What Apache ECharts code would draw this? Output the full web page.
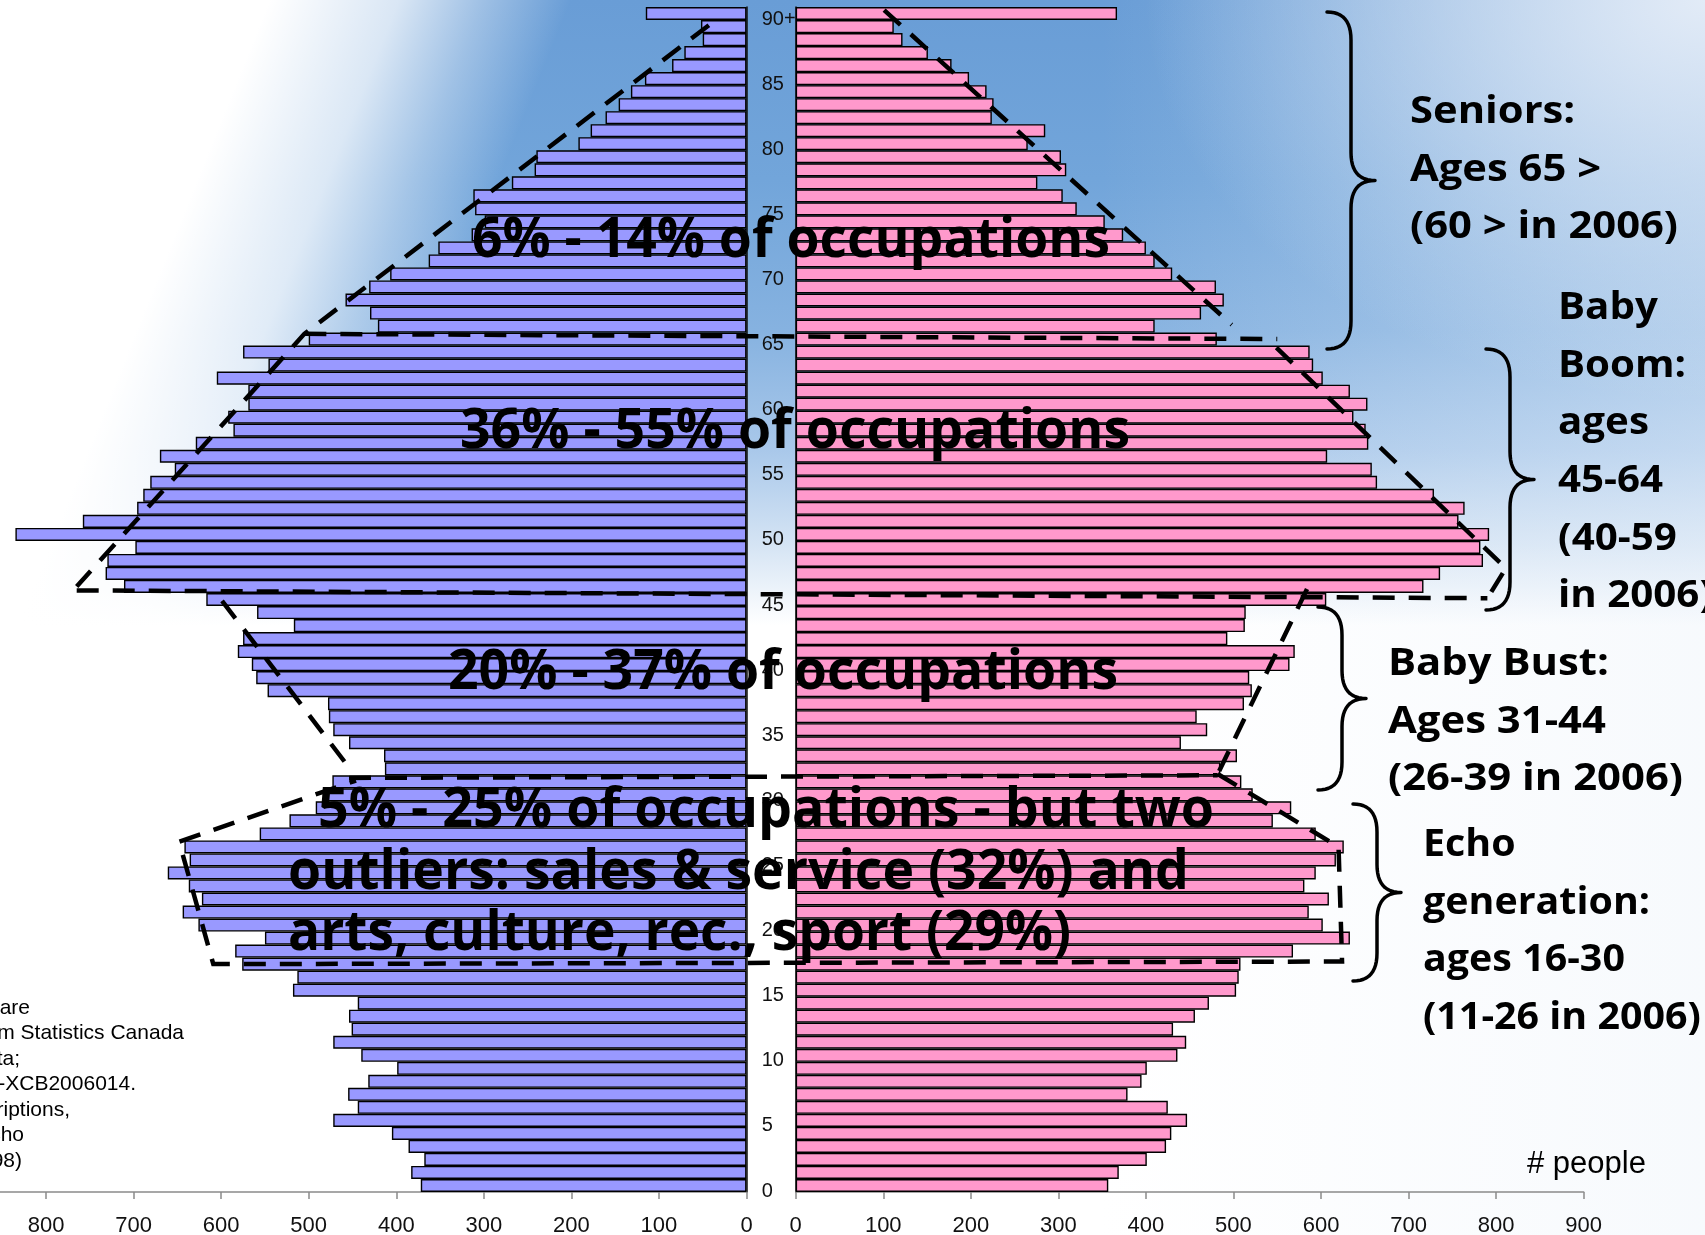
<!DOCTYPE html>
<html>
<head>
<meta charset="utf-8">
<script src="https://cdn.jsdelivr.net/npm/echarts@6.0.0/dist/echarts.min.js"></script>
<style>
html, body { margin: 0; padding: 0; background: #fff; }
#main {
  width: 1705px;
  height: 1235px;
  background:
    linear-gradient(112deg, #ffffff 0px, #ffffff 250px, rgba(255,255,255,0.75) 370px, rgba(255,255,255,0.35) 450px, rgba(255,255,255,0) 530px),
    radial-gradient(ellipse 560px 400px at 1705px 0px, rgba(226,235,247,1) 0%, rgba(226,235,247,0) 100%),
    linear-gradient(90deg, rgba(235,242,250,0) 1100px, rgba(235,242,250,0.4) 1705px),
    linear-gradient(180deg, #699dd6 0px, #72a5da 180px, #86b2e0 330px, #a9c8ea 450px, #d5e4f4 545px, #ffffff 625px);
}
</style>
</head>
<body>
<div id="main"></div>
<script>
// ages 0 .. 90+, bottom to top
var ageLabels = ['0','1','2','3','4','5','6','7','8','9',
  '10','11','12','13','14','15','16','17','18','19',
  '20','21','22','23','24','25','26','27','28','29',
  '30','31','32','33','34','35','36','37','38','39',
  '40','41','42','43','44','45','46','47','48','49',
  '50','51','52','53','54','55','56','57','58','59',
  '60','61','62','63','64','65','66','67','68','69',
  '70','71','72','73','74','75','76','77','78','79',
  '80','81','82','83','84','85','86','87','88','89','90+'];

// # people, blue (left) side
var blueCounts = [372, 383, 368, 386, 405, 472, 444, 455, 432, 399,
  440, 472, 451, 454, 444, 518, 513, 576, 584, 550,
  626, 644, 622, 637, 661, 636, 642, 556, 522, 492,
  480, 473, 413, 414, 454, 472, 477, 478, 547, 560,
  565, 581, 575, 517, 559, 617, 711, 732, 730, 698,
  835, 758, 696, 689, 681, 653, 670, 629, 586, 592,
  569, 569, 605, 546, 575, 500, 421, 430, 458, 431,
  407, 363, 352, 314, 299, 310, 312, 268, 242, 240,
  192, 178, 161, 146, 132, 116, 85, 71, 50, 52, 115];

// # people, pink (right) side
var pinkCounts = [357, 369, 401, 423, 429, 447, 425, 379, 395, 401,
  436, 446, 431, 456, 472, 503, 506, 508, 568, 633,
  602, 586, 609, 581, 594, 617, 626, 594, 545, 566,
  522, 509, 485, 504, 440, 470, 458, 512, 521, 518,
  564, 570, 493, 513, 514, 606, 717, 736, 785, 782,
  792, 757, 764, 729, 664, 658, 607, 654, 651, 637,
  653, 633, 602, 591, 587, 481, 410, 463, 489, 480,
  430, 410, 400, 374, 353, 321, 305, 276, 309, 303,
  265, 285, 224, 226, 218, 198, 178, 151, 122, 112, 367];

var peopleMax = 900;
var peopleStep = 100;

// dashed group outlines: [people (negative = left side), age position]
var groupOutlines = [
  [[-43, 89.1], [-505, 65.4], [-765, 46.0]],
  [[101, 90.26], [498, 66.1]],
  [[-505, 65.4], [550, 65.0]],
  [[549, 64.35], [811, 47.4], [790, 45.1]],
  [[-765, 45.7], [790, 45.1]],
  [[-599, 44.9], [-454, 32.1]],
  [[584, 45.8], [482, 31.6]],
  [[-454, 31.3], [482, 31.5]],
  [[482, 31.6], [620, 26.0], [624, 17.2], [-609, 17.0], [-648, 26.4], [-446, 31.1]]
];

var occupationNotes = [
  { text: '6% - 14% of occupations', x: 472, y: 241, w: 638 },
  { text: '36% - 55% of occupations', x: 460, y: 432, w: 670 },
  { text: '20% - 37% of occupations', x: 448, y: 673, w: 670 },
  { text: '5% - 25% of occupations - but two', x: 318, y: 811, w: 896 },
  { text: 'outliers: sales & service (32%) and', x: 288, y: 873, w: 901 },
  { text: 'arts, culture, rec., sport (29%)', x: 288, y: 934, w: 783 }
];

var cohortNotes = [
  { lines: ['Seniors:', 'Ages 65 >', '(60 > in 2006)'], x: 1410, y: 112, ref: 2, w: 268 },
  { lines: ['Baby', 'Boom:', 'ages', '45-64', '(40-59', 'in 2006)'], x: 1558, y: 308, ref: 1, w: 128 },
  { lines: ['Baby Bust:', 'Ages 31-44', '(26-39 in 2006)'], x: 1388, y: 664, ref: 2, w: 295 },
  { lines: ['Echo', 'generation:', 'ages 16-30', '(11-26 in 2006)'], x: 1423, y: 845, ref: 1, w: 227 }
];

// braces: spine x, top, bottom
var braces = [
  [1351, 12, 349],
  [1510, 349, 610],
  [1342, 607, 790],
  [1377, 804, 981]
];

var sourceLines = ['Data are', 'from Statistics Canada', '2006 Census data;',
  'Catalogue 97-551-XCB2006014.', 'Group descriptions,', 'Boom, Bust & Echo', '(Foot, 1998)'];
var sourceEnds = [30, 184, 20, 136, 70, 24, 22];

var tickFont = 'Liberation Sans';

var option = {
  backgroundColor: 'transparent',
  animation: false,
  grid: [
    { left: -41.5, width: 788, top: 7, bottom: 43, outerBoundsMode: 'none', containLabel: false },
    { left: 795.7, width: 788, top: 7, bottom: 43, outerBoundsMode: 'none', containLabel: false }
  ],
  xAxis: [
    {
      gridIndex: 0, type: 'value', inverse: true, min: 0, max: peopleMax, interval: peopleStep,
      splitLine: { show: false },
      axisLine: { show: true, lineStyle: { color: '#8a8a8a', width: 1.5 } },
      axisTick: { show: true, length: 7, lineStyle: { color: '#8a8a8a', width: 1.5 } },
      axisLabel: { fontSize: 22, margin: 23, color: '#111', fontFamily: tickFont }
    },
    {
      gridIndex: 1, type: 'value', min: 0, max: peopleMax, interval: peopleStep,
      splitLine: { show: false },
      axisLine: { show: true, lineStyle: { color: '#8a8a8a', width: 1.5 } },
      axisTick: { show: true, length: 7, lineStyle: { color: '#8a8a8a', width: 1.5 } },
      axisLabel: { fontSize: 22, margin: 23, color: '#111', fontFamily: tickFont }
    }
  ],
  yAxis: [
    {
      gridIndex: 0, type: 'category', data: ageLabels, position: 'right',
      axisLine: { show: true, lineStyle: { color: '#111', width: 1.5 } },
      axisTick: { show: false },
      axisLabel: { show: false }
    },
    {
      gridIndex: 1, type: 'category', data: ageLabels, position: 'left',
      axisLine: { show: true, lineStyle: { color: '#111', width: 1.5 } },
      axisTick: { show: false },
      axisLabel: {
        interval: 4, align: 'left', margin: 34, fontSize: 20, color: '#111',
        fontFamily: tickFont, verticalAlign: 'top', lineHeight: 11
      }
    }
  ],
  series: [
    {
      type: 'bar', xAxisIndex: 0, yAxisIndex: 0, data: blueCounts, barWidth: '100%',
      itemStyle: { color: '#9999ff', borderColor: '#000', borderWidth: 1.4 }
    },
    {
      type: 'bar', xAxisIndex: 1, yAxisIndex: 1, data: pinkCounts, barWidth: '100%',
      itemStyle: { color: '#ff99cc', borderColor: '#000', borderWidth: 1.4 }
    }
  ]
};

var chart = echarts.init(document.getElementById('main'));
chart.setOption(option);

var measureCtx = document.createElement('canvas').getContext('2d');
function textWidth(text, font) {
  measureCtx.font = font;
  return measureCtx.measureText(text).width;
}

function toPixel(pt) {
  var g = pt[0] < 0 ? 0 : 1;
  var v = Math.abs(pt[0]);
  var a = chart.convertToPixel({ gridIndex: g }, [v, 0]);
  var b = chart.convertToPixel({ gridIndex: g }, [v, 1]);
  return [a[0], a[1] + (b[1] - a[1]) * pt[1]];
}

function textEl(text, x, y, font, scaleX, align, z) {
  return {
    type: 'text', x: x, y: y, scaleX: scaleX, z: z, silent: true,
    style: {
      text: text, font: font, fill: '#000',
      align: align, textAlign: align,
      verticalAlign: 'middle', textVerticalAlign: 'middle'
    }
  };
}

// quadratic curve sampled into points
function quad(p0, c, p1, out) {
  for (var i = 1; i <= 12; i++) {
    var t = i / 12, u = 1 - t;
    out.push([u * u * p0[0] + 2 * u * t * c[0] + t * t * p1[0],
              u * u * p0[1] + 2 * u * t * c[1] + t * t * p1[1]]);
  }
}

function bracePoints(sx, y1, y2) {
  var ym = (y1 + y2) / 2, w = 24, r = 28;
  var pts = [[sx - w, y1]];
  quad([sx - w, y1], [sx, y1], [sx, y1 + r], pts);
  pts.push([sx, ym - r]);
  quad([sx, ym - r], [sx, ym], [sx + w, ym], pts);
  quad([sx + w, ym], [sx, ym], [sx, ym + r], pts);
  pts.push([sx, y2 - r]);
  quad([sx, y2 - r], [sx, y2], [sx - w, y2], pts);
  return pts;
}

var gfx = [];

groupOutlines.forEach(function (line) {
  gfx.push({
    type: 'polyline', z: 50, silent: true,
    shape: { points: line.map(toPixel) },
    style: { stroke: '#000', lineWidth: 4.5, lineDash: [22, 14], fill: null }
  });
});

var bigFont = 'bold 56px "Open Sans"';
occupationNotes.forEach(function (n) {
  var s = n.w / textWidth(n.text, bigFont);
  gfx.push(textEl(n.text, n.x, n.y, bigFont, s, 'left', 60));
});

var labelFont = 'bold 38px "Open Sans"';
cohortNotes.forEach(function (c) {
  var s = c.w / textWidth(c.lines[c.ref], labelFont);
  c.lines.forEach(function (t, i) {
    gfx.push(textEl(t, c.x, c.y + i * 57.7, labelFont, s, 'left', 60));
  });
});

braces.forEach(function (b) {
  gfx.push({
    type: 'polyline', z: 55, silent: true,
    shape: { points: bracePoints(b[0], b[1], b[2]) },
    style: { stroke: '#000', lineWidth: 3.5, fill: null, lineJoin: 'round', lineCap: 'round' }
  });
});

sourceLines.forEach(function (t, i) {
  gfx.push(textEl(t, sourceEnds[i], 1008 + i * 25.5, '21px "Liberation Sans"', 1, 'right', 40));
});

gfx.push(textEl('# people', 1527, 1164, '31px "Liberation Sans"', 1, 'left', 40));

chart.setOption({ graphic: gfx });
</script>
</body>
</html>
